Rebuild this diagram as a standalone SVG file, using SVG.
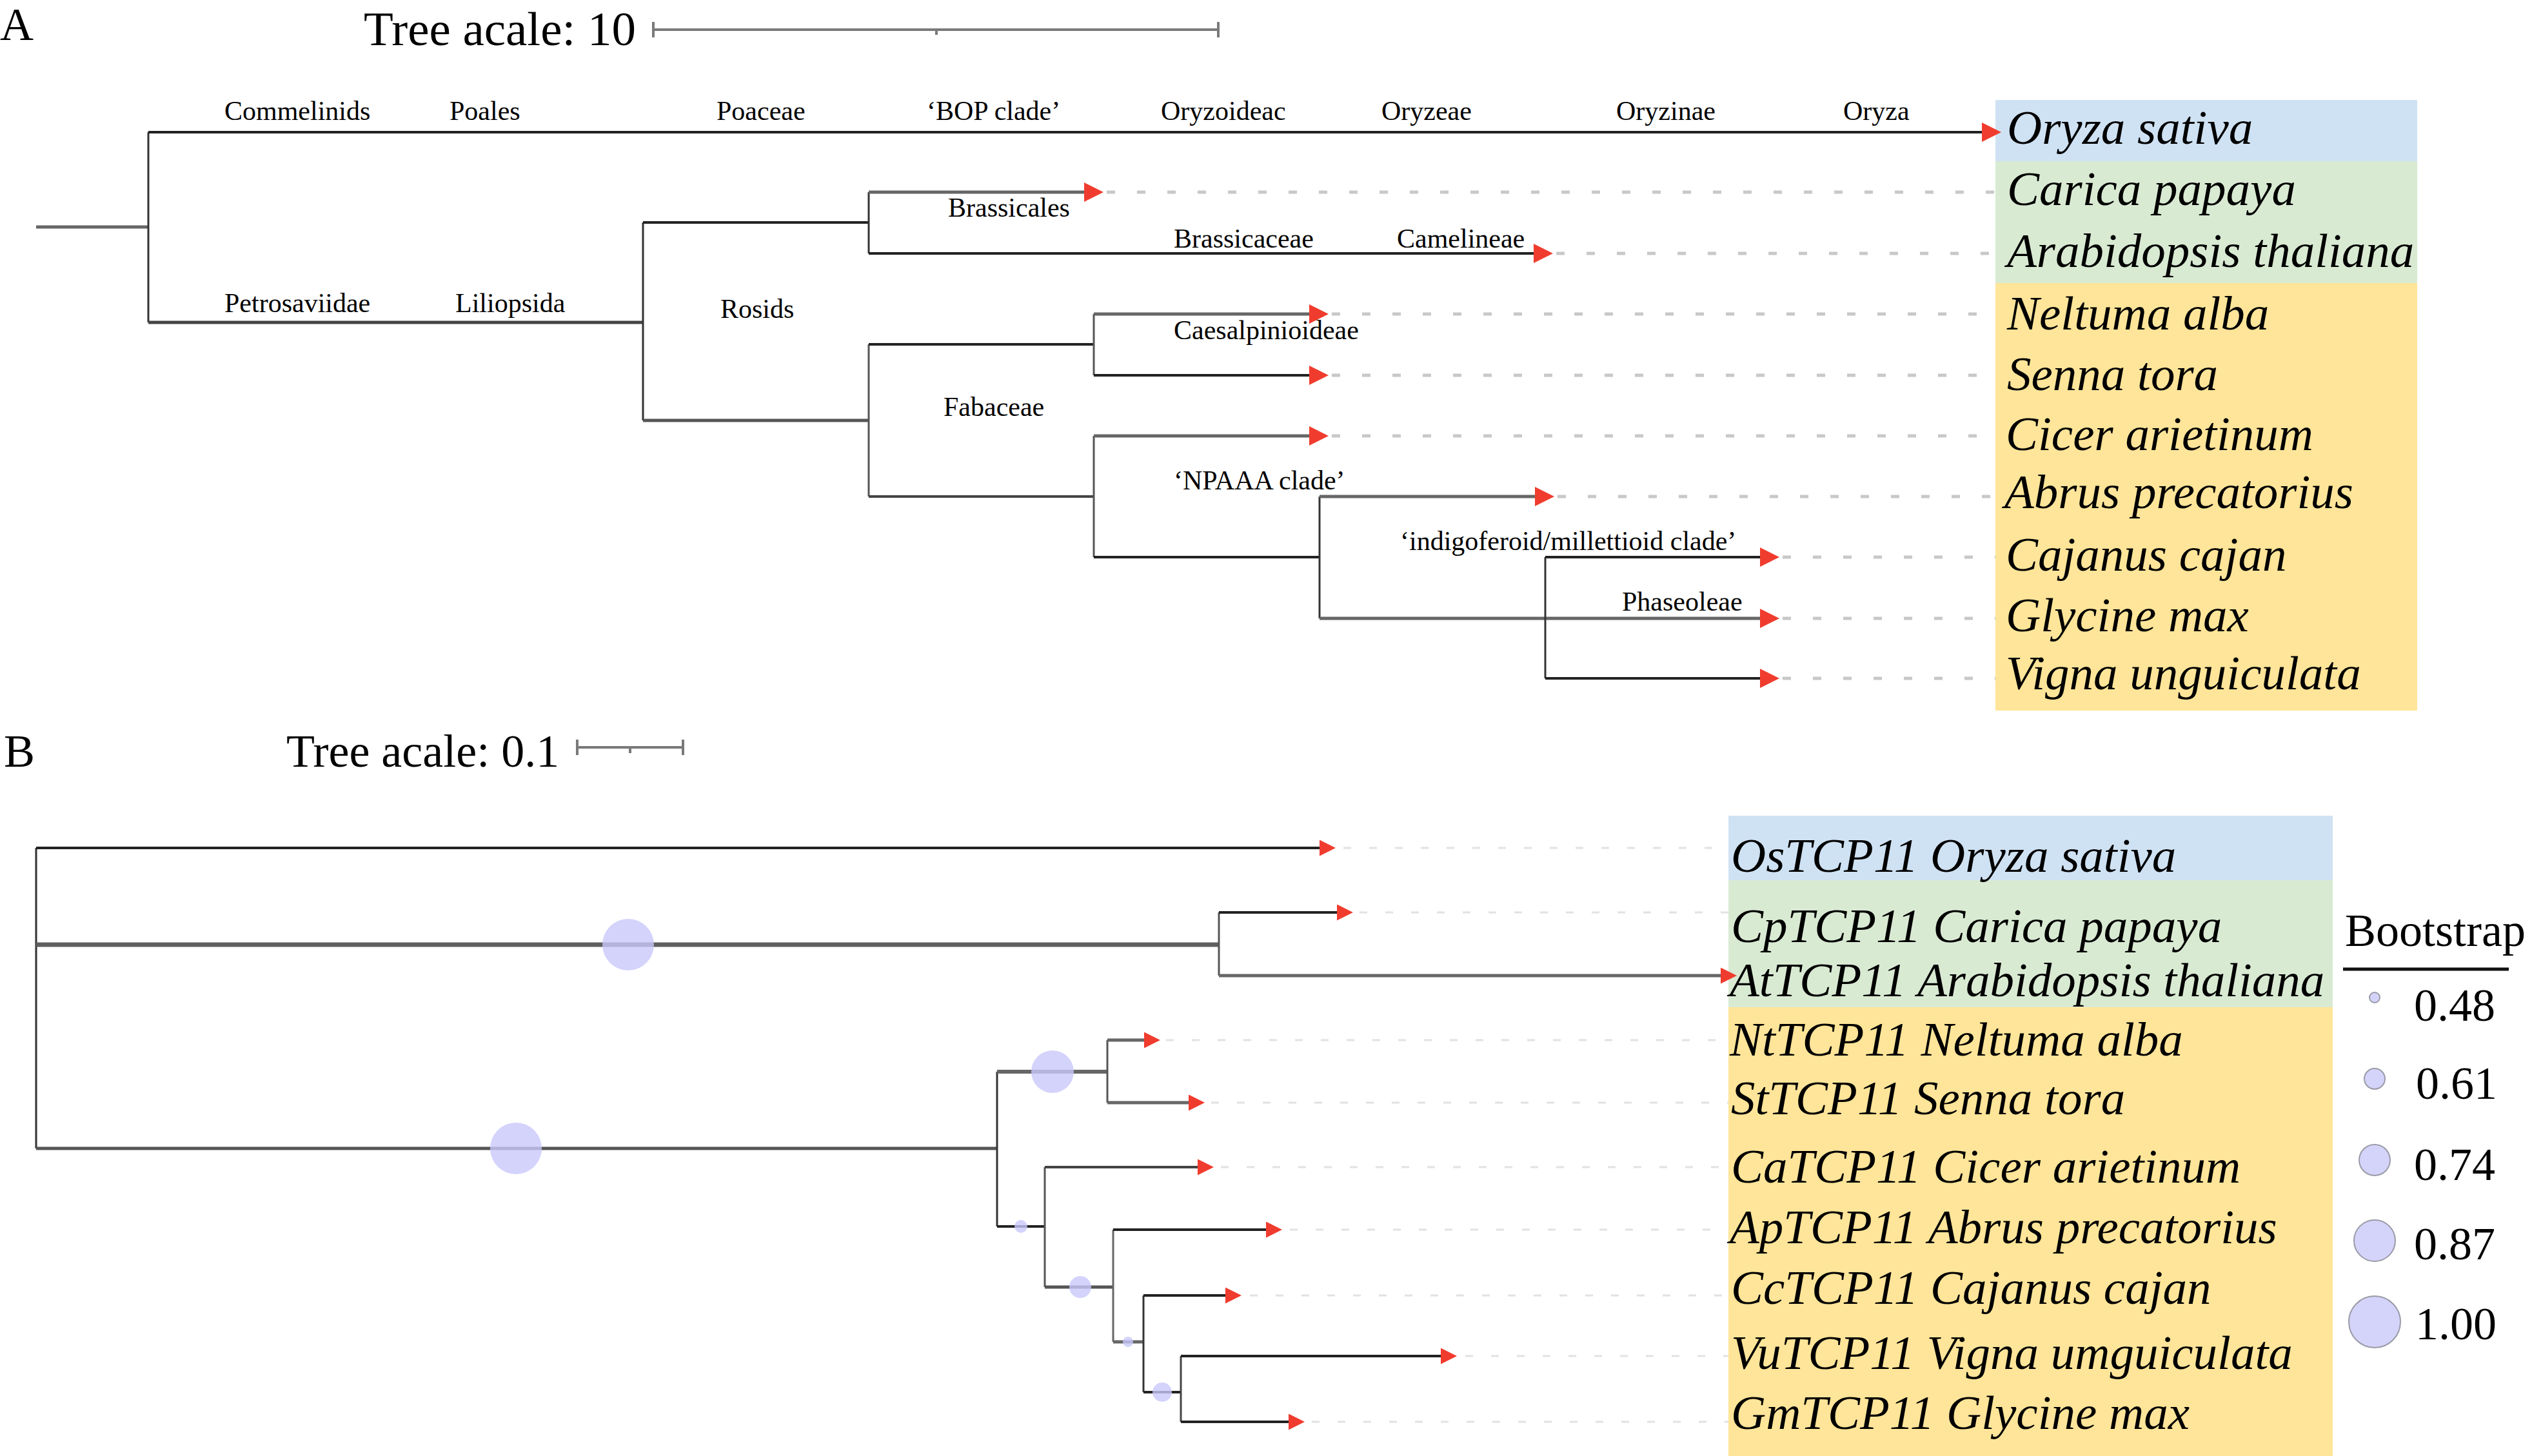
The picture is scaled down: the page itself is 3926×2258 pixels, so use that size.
<svg xmlns="http://www.w3.org/2000/svg" width="3926" height="2258" viewBox="0 0 3926 2258">
<defs>
<style>
text{font-family:"Liberation Serif","Times New Roman",serif;fill:#000}
.panel{font-size:72px}
.title{font-size:75px}
.clade{font-size:42px}
.sp{font-size:75px;font-style:italic}
.leg{font-size:72px}
.br{fill:none;stroke:#222;stroke-width:4}
.brg{fill:none;stroke:#666;stroke-width:5}
.v{fill:none;stroke:#333;stroke-width:3}
.ma{marker-end:url(#arrA)}
.mb{marker-end:url(#arrB)}
.dashA{fill:none;stroke:#c8c8c8;stroke-width:5;stroke-dasharray:13 34}
.dashB{fill:none;stroke:#e2e2e2;stroke-width:3;stroke-dasharray:12 28}
.scale{fill:none;stroke:#7a7a7a;stroke-width:4}
.bub{fill:#c8c8fb;fill-opacity:0.8}
.legc{fill:#d4d4fa;stroke:#9a9aa8;stroke-width:2}
</style>
<marker id="arrA" viewBox="0 0 30 30" refX="0" refY="15" markerWidth="30" markerHeight="30" markerUnits="userSpaceOnUse" orient="auto">
<path d="M0,0 L30,15 L0,30 Z" fill="#f03c2e"/>
</marker>
<marker id="arrB" viewBox="0 0 25 25" refX="0" refY="12.5" markerWidth="25" markerHeight="25" markerUnits="userSpaceOnUse" orient="auto">
<path d="M0,0 L25,12.5 L0,25 Z" fill="#f03c2e"/>
</marker>
</defs>
<rect x="0" y="0" width="3926" height="2258" fill="#fff"/>

<!-- ================= PANEL A ================= -->
<g id="panelA">
<text id="labelA" class="panel" x="0" y="62">A</text>
<g id="scaleA">
<text class="title" x="564" y="70">Tree acale: 10</text>
<path class="scale" d="M1013,46 H1889 M1013,34 V58 M1889,34 V58 M1452,46 V54"/>
</g>

<g id="boxesA">
<rect x="3094" y="155" width="654" height="95" fill="#cfe2f3"/>
<rect x="3094" y="250" width="654" height="189" fill="#d9ead3"/>
<rect x="3094" y="439" width="654" height="663" fill="#ffe599"/>
</g>

<g id="connectorsA">
<path class="brg" d="M56,352 H230"/>
<path class="v" d="M230,205 V500"/>
<path class="br ma" d="M230,205 H3073"/>
<path class="brg" style="stroke:#444" d="M230,500 H997"/>
<path class="v" d="M997,345 V652"/>
<path class="br" d="M997,345 H1347"/>
<path class="brg" style="stroke:#555" d="M997,652 H1347"/>
<path class="v" d="M1347,298 V393"/>
<path class="brg ma" d="M1347,298 H1681"/>
<path class="br ma" d="M1347,393 H2378"/>
<path class="v" style="stroke:#555" d="M1347,534 V770"/>
<path class="br" d="M1347,534 H1696"/>
<path class="br" style="stroke:#444" d="M1347,770 H1696"/>
<path class="v" style="stroke:#555" d="M1696,487 V582"/>
<path class="v" style="stroke:#555" d="M1696,676 V864"/>
<path class="brg ma" d="M1696,487 H2030"/>
<path class="br ma" d="M1696,582 H2030"/>
<path class="brg ma" d="M1696,676 H2030"/>
<path class="br" d="M1696,864 H2046"/>
<path class="v" d="M2046,770 V959"/>
<path class="brg ma" d="M2046,770 H2380"/>
<path class="brg ma" d="M2046,959 H2729"/>
<path class="v" d="M2396,864 V1052"/>
<path class="br ma" d="M2396,864 H2729"/>
<path class="br ma" d="M2396,1052 H2729"/>
<path class="dashA" d="M1716,298 H3094"/>
<path class="dashA" d="M2413,393 H3094"/>
<path class="dashA" d="M2065,487 H3094"/>
<path class="dashA" d="M2065,582 H3094"/>
<path class="dashA" d="M2065,676 H3094"/>
<path class="dashA" d="M2415,770 H3094"/>
<path class="dashA" d="M2764,864 H3094"/>
<path class="dashA" d="M2764,959 H3094"/>
<path class="dashA" d="M2764,1052 H3094"/>
</g>

<g id="cladesA">
<text class="clade" x="348" y="186">Commelinids</text>
<text class="clade" x="697" y="186">Poales</text>
<text class="clade" x="1111" y="186">Poaceae</text>
<text class="clade" x="1437" y="186">‘BOP clade’</text>
<text class="clade" x="1800" y="186">Oryzoideac</text>
<text class="clade" x="2142" y="186">Oryzeae</text>
<text class="clade" x="2506" y="186">Oryzinae</text>
<text class="clade" x="2858" y="186">Oryza</text>
<text class="clade" x="348" y="484">Petrosaviidae</text>
<text class="clade" x="706" y="484">Liliopsida</text>
<text class="clade" x="1117" y="493">Rosids</text>
<text class="clade" x="1470" y="336">Brassicales</text>
<text class="clade" x="1820" y="384">Brassicaceae</text>
<text class="clade" x="2166" y="384">Camelineae</text>
<text class="clade" x="1820" y="526">Caesalpinioideae</text>
<text class="clade" x="1463" y="645">Fabaceae</text>
<text class="clade" x="1820" y="759">‘NPAAA clade’</text>
<text class="clade" x="2171" y="853">‘indigoferoid/millettioid clade’</text>
<text class="clade" x="2515" y="947">Phaseoleae</text>
</g>

<g id="taxaA">
<g id="a-oryza"><text class="sp" x="3112" y="223">Oryza sativa</text></g>
<g id="a-carica"><text class="sp" x="3112" y="318">Carica papaya</text></g>
<g id="a-arabidopsis"><text class="sp" x="3112" y="414">Arabidopsis thaliana</text></g>
<g id="a-neltuma"><text class="sp" x="3112" y="511">Neltuma alba</text></g>
<g id="a-senna"><text class="sp" x="3112" y="605">Senna tora</text></g>
<g id="a-cicer"><text class="sp" x="3110" y="698">Cicer arietinum</text></g>
<g id="a-abrus"><text class="sp" x="3108" y="788">Abrus precatorius</text></g>
<g id="a-cajanus"><text class="sp" x="3110" y="885">Cajanus cajan</text></g>
<g id="a-glycine"><text class="sp" x="3110" y="979">Glycine max</text></g>
<g id="a-vigna"><text class="sp" x="3110" y="1069">Vigna unguiculata</text></g>
</g>
</g>

<!-- ================= PANEL B ================= -->
<g id="panelB">
<text id="labelB" class="panel" x="6" y="1189">B</text>
<g id="scaleB">
<text class="title" x="444" y="1189" style="font-size:72px">Tree acale: 0.1</text>
<path class="scale" d="M895,1159 H1059 M895,1147 V1171 M1059,1147 V1171 M977,1159 V1168"/>
</g>

<g id="boxesB">
<rect x="2680" y="1265" width="937" height="100" fill="#cfe2f3"/>
<rect x="2680" y="1365" width="937" height="197" fill="#d9ead3"/>
<rect x="2680" y="1562" width="937" height="696" fill="#ffe599"/>
</g>

<g id="connectorsB">
<path class="v" d="M56,1315 V1781"/>
<path class="br mb" d="M56,1315 H2046"/>
<path class="brg" style="stroke-width:7;stroke:#5f5f5f" d="M56,1465 H1890"/>
<path class="v" style="stroke:#555" d="M1890,1415 V1513"/>
<path class="br mb" d="M1890,1415 H2073"/>
<path class="brg mb" d="M1890,1513 H2668"/>
<path class="brg" style="stroke:#555" d="M56,1781 H1546"/>
<path class="v" d="M1546,1662 V1902"/>
<path class="brg" style="stroke-width:6" d="M1546,1662 H1717"/>
<path class="v" style="stroke:#555" d="M1717,1613 V1710"/>
<path class="brg mb" d="M1717,1613 H1774"/>
<path class="brg mb" d="M1717,1710 H1843"/>
<path class="br" d="M1546,1902 H1620"/>
<path class="v" style="stroke:#555" d="M1620,1810 V1996"/>
<path class="br mb" style="stroke:#444" d="M1620,1810 H1857"/>
<path class="brg" style="stroke:#555" d="M1620,1996 H1726"/>
<path class="v" style="stroke:#666" d="M1726,1907 V2081"/>
<path class="br mb" d="M1726,1907 H1963"/>
<path class="brg" d="M1726,2081 H1773"/>
<path class="v" d="M1773,2009 V2159"/>
<path class="br mb" d="M1773,2009 H1900"/>
<path class="br" d="M1773,2159 H1831"/>
<path class="v" style="stroke:#444" d="M1831,2103 V2205"/>
<path class="br mb" d="M1831,2103 H2234"/>
<path class="br mb" d="M1831,2205 H1998"/>
<path class="dashB" d="M2083,1315 H2680"/>
<path class="dashB" d="M2108,1415 H2680"/>
<path class="dashB" d="M1808,1613 H2680"/>
<path class="dashB" d="M1878,1710 H2680"/>
<path class="dashB" d="M1893,1810 H2680"/>
<path class="dashB" d="M2000,1907 H2680"/>
<path class="dashB" d="M1938,2009 H2680"/>
<path class="dashB" d="M2272,2103 H2680"/>
<path class="dashB" d="M2034,2205 H2680"/>
</g>

<g id="bootstrapB">
<circle class="bub" cx="974" cy="1465" r="40"/>
<circle class="bub" cx="800" cy="1781" r="40"/>
<circle class="bub" cx="1632" cy="1662" r="33"/>
<circle class="bub" cx="1583" cy="1902" r="10"/>
<circle class="bub" cx="1675" cy="1996" r="17"/>
<circle class="bub" cx="1749" cy="2081" r="8"/>
<circle class="bub" cx="1802" cy="2159" r="15"/>
</g>

<g id="taxaB">
<g id="b-os"><text class="sp" x="2684" y="1352">OsTCP11 Oryza sativa</text></g>
<g id="b-cp"><text class="sp" x="2684" y="1461">CpTCP11 Carica papaya</text></g>
<g id="b-at"><text class="sp" x="2682" y="1545">AtTCP11 Arabidopsis thaliana</text></g>
<g id="b-nt"><text class="sp" x="2682" y="1637">NtTCP11 Neltuma alba</text></g>
<g id="b-st"><text class="sp" x="2684" y="1728">StTCP11 Senna tora</text></g>
<g id="b-ca"><text class="sp" x="2684" y="1834">CaTCP11 Cicer arietinum</text></g>
<g id="b-ap"><text class="sp" x="2682" y="1928">ApTCP11 Abrus precatorius</text></g>
<g id="b-cc"><text class="sp" x="2684" y="2022">CcTCP11 Cajanus cajan</text></g>
<g id="b-vu"><text class="sp" x="2684" y="2123">VuTCP11 Vigna umguiculata</text></g>
<g id="b-gm"><text class="sp" x="2684" y="2216">GmTCP11 Glycine max</text></g>
</g>

<g id="legend">
<text class="leg" x="3636" y="1467">Bootstrap</text>
<path d="M3633,1503 H3890" stroke="#111" stroke-width="5" fill="none"/>
<circle class="legc" cx="3682" cy="1547" r="8"/>
<text class="leg" x="3743" y="1583">0.48</text>
<circle class="legc" cx="3682" cy="1673" r="16"/>
<text class="leg" x="3746" y="1704">0.61</text>
<circle class="legc" cx="3682" cy="1799" r="24"/>
<text class="leg" x="3743" y="1830">0.74</text>
<circle class="legc" cx="3682" cy="1924" r="32"/>
<text class="leg" x="3743" y="1953">0.87</text>
<circle class="legc" cx="3682" cy="2050" r="40"/>
<text class="leg" x="3745" y="2077">1.00</text>
</g>
</g>
</svg>
